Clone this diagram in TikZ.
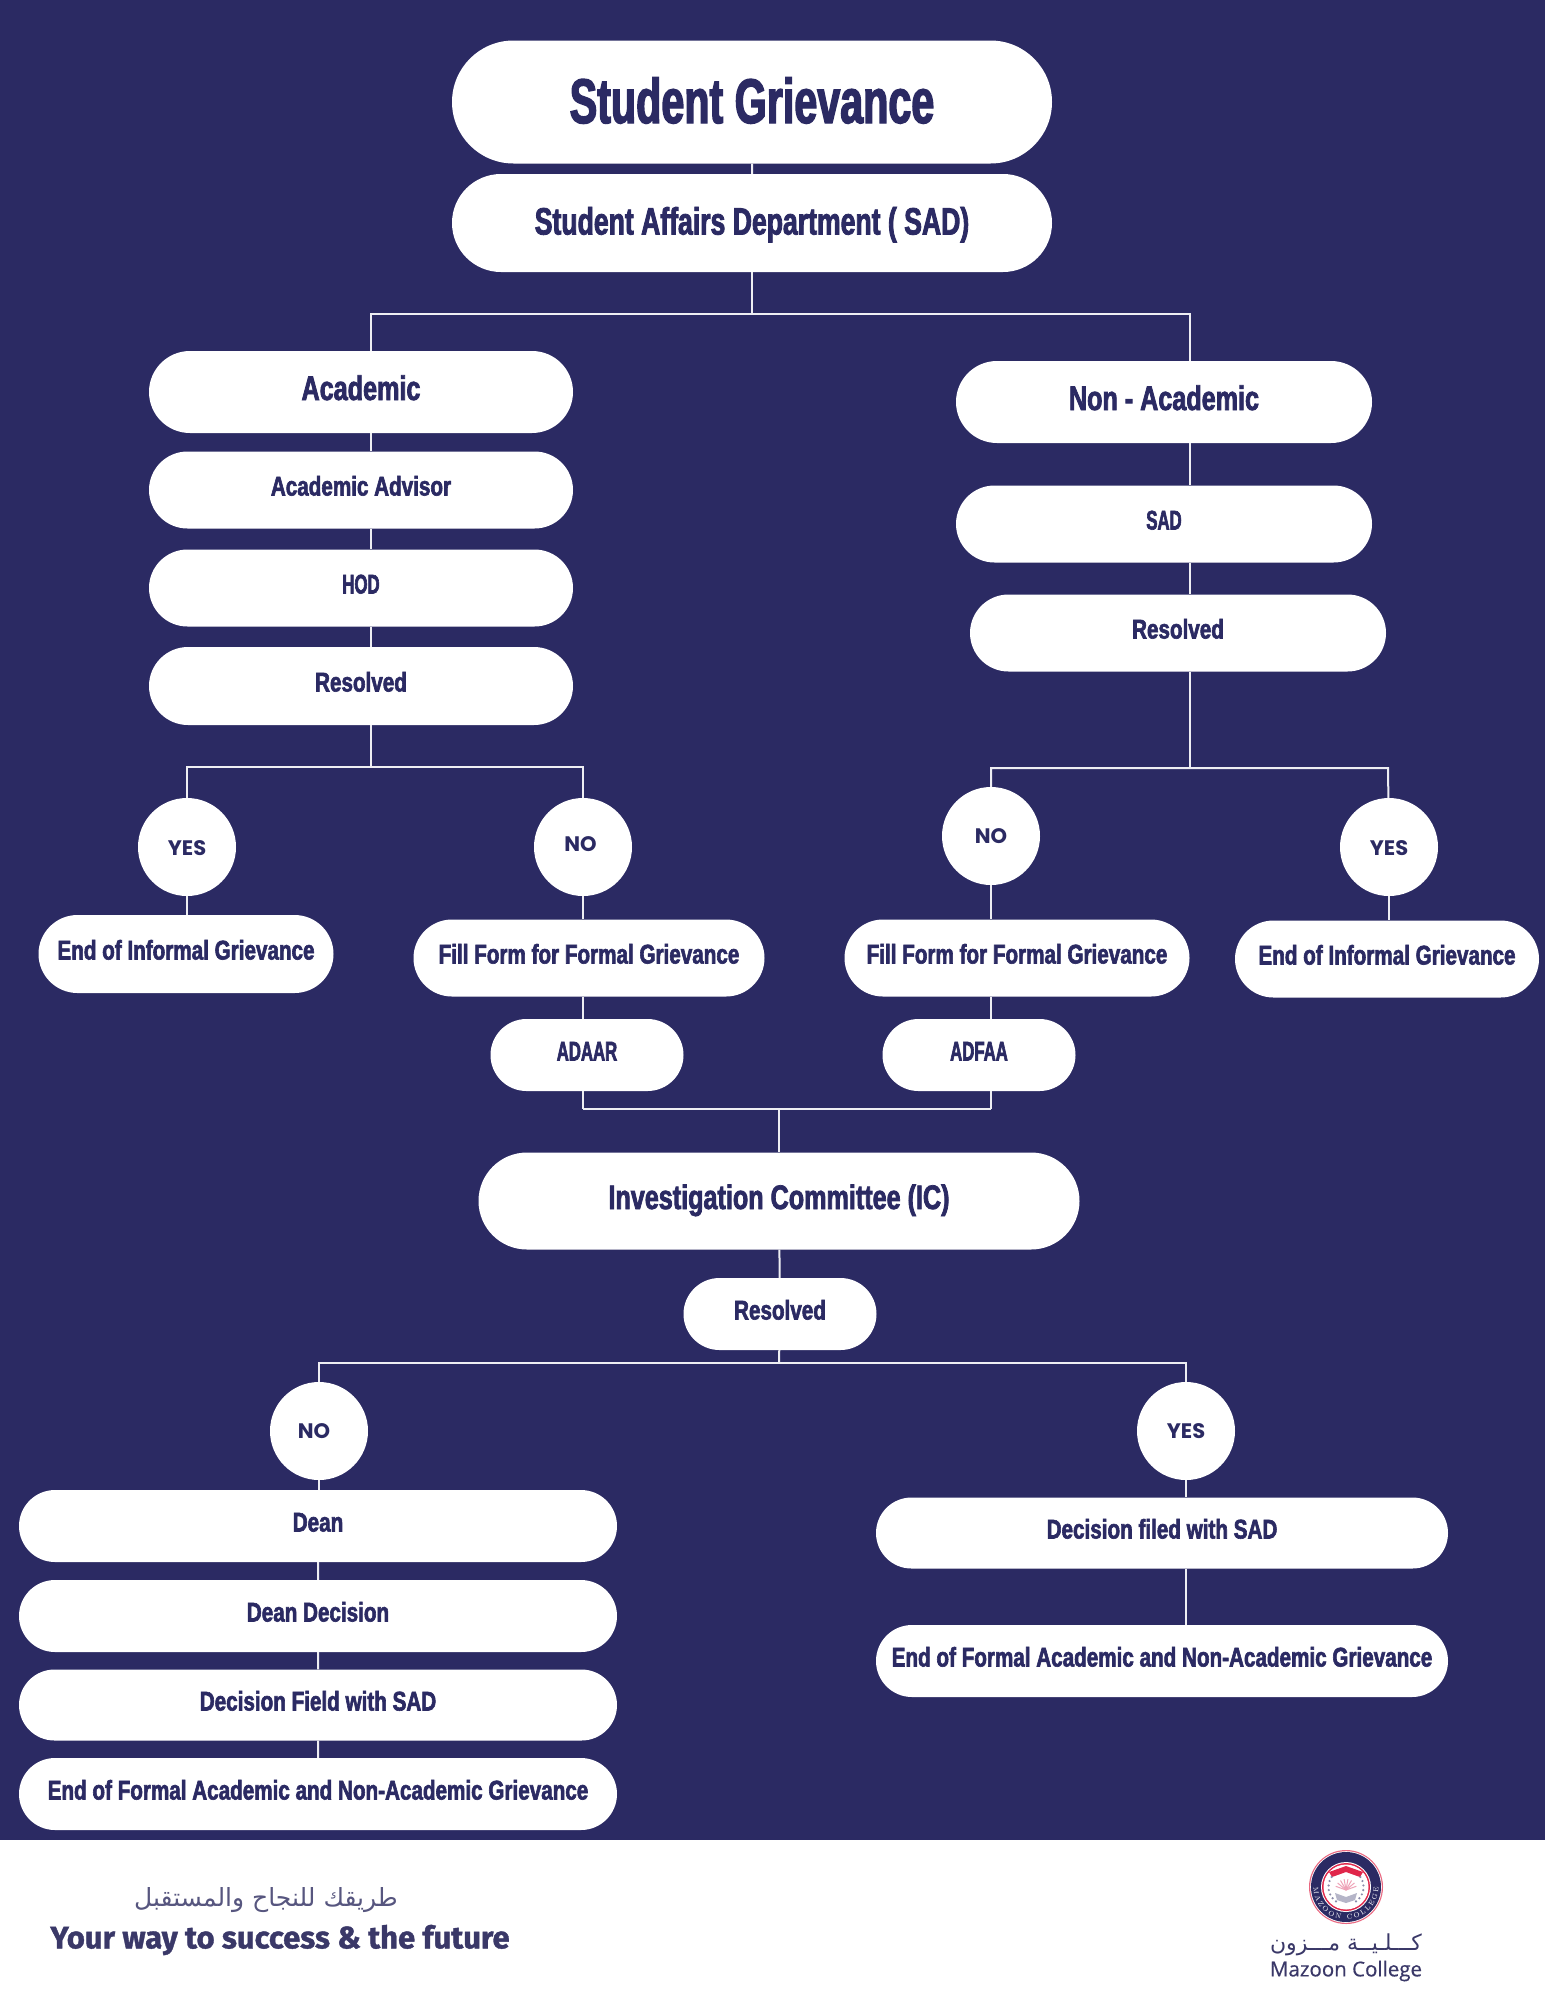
\documentclass[tikz,border=0pt]{standalone}
\usepackage{fontspec}
\usetikzlibrary{shapes.misc,decorations.text}
\TeXXeTstate=1
\newfontfamily\antonhuge[FakeStretch=0.655,FakeBold=2.2,UprightFont=* Bold]{Liberation Sans}
\newfontfamily\antonlarge[FakeStretch=0.70,FakeBold=2.2,UprightFont=* Bold]{Liberation Sans}
\newfontfamily\antonmid[FakeStretch=0.74,FakeBold=2.2,UprightFont=* Bold]{Liberation Sans}
\newfontfamily\antonsmall[FakeStretch=0.765,FakeBold=2.2,UprightFont=* Bold]{Liberation Sans}
\newfontfamily\antontight[FakeStretch=0.62,FakeBold=2.2,UprightFont=* Bold]{Liberation Sans}
\newfontfamily\yesnofont[UprightFont=* Bold]{Poppins}
\newfontfamily\mottofont[FakeBold=1.2,UprightFont=* Bold]{Fira Sans}
\newfontfamily\arabicfont[Script=Arabic]{DejaVu Sans}
\newfontfamily\mazoonfont[FakeBold=0.5]{Open Sans}
\definecolor{navy}{HTML}{2B2A63}
\definecolor{inkgrey}{HTML}{3A3868}
\definecolor{crestred}{HTML}{E0264A}
\definecolor{crestpink}{HTML}{EFA3B8}
\begin{document}
\begin{tikzpicture}
[x=1pt,y=-1pt,
pill/.style 2 args={rounded rectangle,fill=white,text=navy,inner sep=0pt,minimum width=#1,minimum height=#2},
answer/.style={circle,fill=white,text=navy,inner sep=0pt,minimum size=98pt,font=\yesnofont\fontsize{21}{21}\selectfont,text height=15pt,text depth=0pt},
huge/.style={font=\antonhuge\fontsize{63}{63}\selectfont,text height=47pt,text depth=5pt},
large/.style={font=\antonlarge\fontsize{38}{38}\selectfont,text height=28pt,text depth=5pt},
mid/.style={font=\antonmid\fontsize{34}{34}\selectfont,text height=24pt,text depth=8pt},
small/.style={font=\antonsmall\fontsize{27}{27}\selectfont,text height=18pt,text depth=7pt},
tight/.style={font=\antontight\fontsize{27}{27}\selectfont,text height=18pt,text depth=7pt},
link/.style={draw=white!92!navy,line width=2pt},
]

%Page
\fill[navy] (0,0) rectangle (1545,1840);
\fill[white] (0,1840) rectangle (1545,2000);
\useasboundingbox (0,0) rectangle (1545,2000);

%Top boxes
\node (title) at (752,102)[pill={600pt}{123pt},huge] {Student Grievance};
\node (sad) at (752,223)[pill={600pt}{98pt},large] {Student Affairs Department ( SAD)};

%Academic side
\node (academic) at (361,392)[pill={424pt}{82pt},mid] {Academic};
\node (advisor) at (361,490)[pill={424pt}{77pt},small] {Academic Advisor};
\node (hod) at (361,588)[pill={424pt}{77pt},tight] {HOD};
\node (resolvedA) at (361,686)[pill={424pt}{78pt},small] {Resolved};
\node (yesA) at (187,847)[answer,text height=17pt] {YES};
\node (noA) at (583,847)[answer,text depth=6pt] {\hspace*{-5pt}NO};
\node (endA) at (186,954)[pill={295pt}{78pt},small] {End of Informal Grievance};
\node (fillA) at (589,958)[pill={351pt}{77pt},small] {Fill Form for Formal Grievance};
\node (adaar) at (587,1055)[pill={193pt}{72pt},tight] {ADAAR};

%Non academic side
\node (nonacademic) at (1164,402)[pill={416pt}{82pt},mid] {Non - Academic};
\node (sadB) at (1164,524)[pill={416pt}{77pt},tight] {SAD};
\node (resolvedB) at (1178,633)[pill={416pt}{77pt},small] {Resolved};
\node (noB) at (991,836)[answer] {NO};
\node (yesB) at (1389,847)[answer,text height=17pt] {YES};
\node (fillB) at (1017,958)[pill={345pt}{77pt},small] {Fill Form for Formal Grievance};
\node (adfaa) at (979,1055)[pill={193pt}{72pt},tight] {ADFAA};
\node (endB) at (1387,959)[pill={304pt}{77pt},small] {End of Informal Grievance};

%Committee
\node (committee) at (779,1201)[pill={601pt}{97pt},mid] {Investigation Committee (IC)};
\node (resolvedC) at (780,1314)[pill={193pt}{72pt},small] {Resolved};

%Bottom left
\node (noC) at (319,1431)[answer] {\hspace*{-10pt}NO};
\node (dean) at (318,1526)[pill={598pt}{72pt},small] {Dean};
\node (decision) at (318,1616)[pill={598pt}{72pt},small] {Dean Decision};
\node (field) at (318,1705)[pill={598pt}{71pt},small] {Decision Field with SAD};
\node (endC) at (318,1794)[pill={598pt}{72pt},small] {End of Formal Academic and Non-Academic Grievance};

%Bottom right
\node (yesC) at (1186,1431)[answer] {YES};
\node (filed) at (1162,1533)[pill={572pt}{71pt},small] {Decision filed with SAD};
\node (endD) at (1162,1661)[pill={572pt}{72pt},small] {End of Formal Academic and Non-Academic Grievance};

%Branch points
\coordinate (hubtop) at (752,314);
\coordinate (spineA) at (371,314);
\coordinate (spineB) at (1190,314);
\coordinate (hubA) at (371,767);
\coordinate (hubB) at (1190,768);
\coordinate (barA) at (187,767);
\coordinate (barB) at (583,767);
\coordinate (barC) at (991,768);
\coordinate (barD) at (1388,768);
\coordinate (joinA) at (583,1109);
\coordinate (joinB) at (991,1109);
\coordinate (joinC) at (779,1109);
\coordinate (hubC) at (779,1363);
\coordinate (barE) at (319,1363);
\coordinate (barF) at (1186,1363);

%Drawing top connectors
\draw[link] (title) -- (sad);
\draw[link] (sad) -- (hubtop);
\draw[link] (academic.north -| spineA) -- (spineA) -- (spineB) -- (nonacademic.north -| spineB);

%Drawing academic connectors
\draw[link] (academic.south -| spineA) -- (advisor.north -| spineA);
\draw[link] (advisor.south -| spineA) -- (hod.north -| spineA);
\draw[link] (hod.south -| spineA) -- (resolvedA.north -| spineA);
\draw[link] (resolvedA.south -| spineA) -- (hubA);
\draw[link] (yesA) -- (barA) -- (barB) -- (noA.north -| barB);
\draw[link] (yesA) -- (endA.north -| yesA);
\draw[link] (noA.south -| barB) -- (fillA.north -| barB);
\draw[link] (fillA.south -| barB) -- (adaar.north -| barB);
\draw[link] (adaar.south -| barB) -- (joinA);

%Drawing non academic connectors
\draw[link] (nonacademic.south -| spineB) -- (sadB.north -| spineB);
\draw[link] (sadB.south -| spineB) -- (resolvedB.north -| spineB);
\draw[link] (resolvedB.south -| spineB) -- (hubB);
\draw[link] (noB) -- (barC) -- (barD) -- (yesB);
\draw[link] (noB) -- (fillB.north -| noB);
\draw[link] (yesB) -- (endB.north -| yesB);
\draw[link] (fillB.south -| noB) -- (adfaa.north -| noB);
\draw[link] (adfaa.south -| noB) -- (joinB);

%Drawing committee connectors
\draw[link] (joinA) -- (joinB);
\draw[link] (joinC) -- (committee);
\draw[link] (committee) -- (resolvedC);
\draw[link] (resolvedC) -- (hubC);
\draw[link] (noC) -- (barE) -- (barF) -- (yesC);

%Drawing bottom connectors
\draw[link] (noC) -- (dean.north -| noC);
\draw[link] (dean) -- (decision);
\draw[link] (decision) -- (field);
\draw[link] (field) -- (endC);
\draw[link] (yesC) -- (filed.north -| yesC);
\draw[link] (filed.south -| yesC) -- (endD.north -| yesC);

%Footer
\node (motto) at (266,1900)[text=inkgrey!85!white,inner sep=0pt,font=\fontsize{25}{25}\selectfont] {\arabicfont\beginR طريقك للنجاح والمستقبل\endR};
\node (slogan) at (280,1940)[text=inkgrey,inner sep=0pt,font=\mottofont\fontsize{31}{31}\selectfont] {Your way to success \& the future};
\node (college) at (1346,1945)[text=inkgrey,inner sep=0pt,font=\fontsize{22}{22}\selectfont] {\arabicfont\beginR كـــلـيــة مـــزون\endR};
\node (mazoon) at (1346,1971)[text=inkgrey,inner sep=0pt,font=\mazoonfont\fontsize{20.5}{20.5}\selectfont] {Mazoon College};

%Crest
\def\cx{1346}
\def\cy{1887}
\fill[crestred!70!white] (\cx,\cy) circle (37);
\fill[white] (\cx,\cy) circle (35.8);
\fill[navy] (\cx,\cy) circle (35);
\fill[white] (\cx,\cy) circle (25);
\fill[crestred] (\cx,\cy) circle (24);
\fill[white] (\cx,\cy) circle (22.5);
\foreach \a in {-70,-50,...,70}
  \draw[crestpink,line width=1pt] (\cx,\cy+3) -- ++(\a-90:11);
\fill[crestred] (\cx-17,\cy-15) -- (\cx,\cy-21) -- (\cx+17,\cy-15) -- (\cx+14,\cy-10) -- (\cx,\cy-15) -- (\cx-14,\cy-10) -- cycle;
\foreach \a in {125,140,...,215} {
  \fill[navy!55!white] (\cx,\cy) ++(\a:17.5) circle (1.2);
  \fill[navy!55!white] (\cx,\cy) ++(180-\a:17.5) circle (1.2);
}
\fill[navy!35!white] (\cx-11,\cy+6) -- (\cx,\cy+10) -- (\cx+11,\cy+6) -- (\cx+9,\cy+13) -- (\cx,\cy+16) -- (\cx-9,\cy+13) -- cycle;
\path[decorate,decoration={text along path,text align=fit to path,text={|\rmfamily\fontsize{7}{7}\selectfont\color{white}|MAZOON COLLEGE}}] (\cx-32.5,\cy) arc[start angle=180,end angle=0,radius=32.5];

\end{tikzpicture}
\end{document}
